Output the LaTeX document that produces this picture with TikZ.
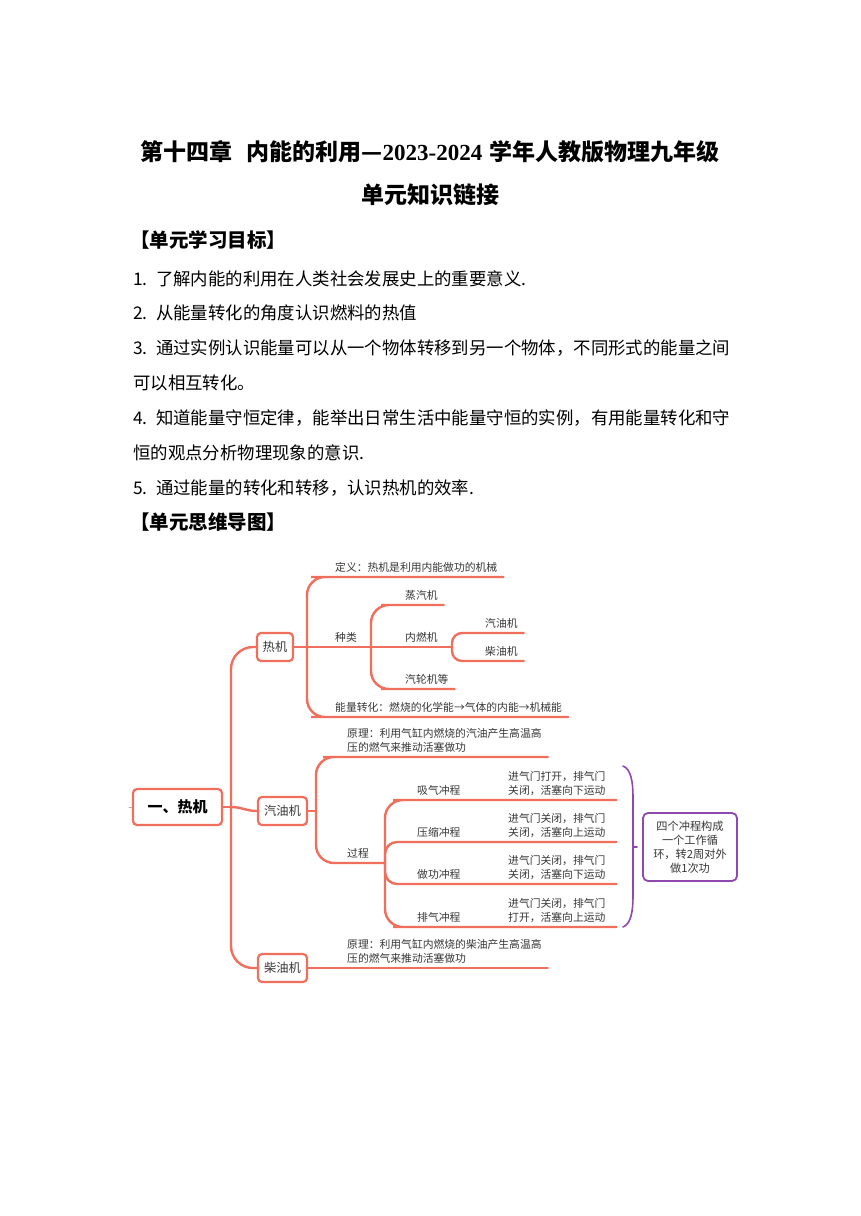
\documentclass[tikz,border=0pt]{standalone}
\usepackage{fontspec}
\setmainfont{Noto Sans CJK SC}
\newfontfamily\numfont{Liberation Serif}
\usepackage{tikz}

\definecolor{mapred}{RGB}{240,110,92}
\definecolor{mappurple}{RGB}{142,72,176}
\definecolor{maptext}{RGB}{55,55,55}

\begin{document}
\begin{tikzpicture}[
    x = 1pt, y = -1pt,
    line cap = round,
    pagetitle/.style = {inner sep = 0pt,
      font = \fontsize{23}{26}\selectfont\bfseries},
    heading/.style = {anchor = west, inner sep = 0pt,
      font = \fontsize{19.5}{22}\selectfont\bfseries},
    goal/.style = {anchor = west, inner sep = 0pt,
      font = \fontsize{17.4}{20}\selectfont},
    branch/.style = {draw = mapred, line width = 2.4pt,
      rounded corners = 18pt},
    topic/.style = {draw = mapred, line width = 2.2pt,
      rounded corners = 4pt, fill = white, text = maptext,
      font = \fontsize{12.3}{14}\selectfont,
      minimum height = 28pt, inner sep = 0pt},
    central/.style = {topic, text = black,
      font = \fontsize{15}{18}\selectfont\bfseries,
      minimum width = 89pt, minimum height = 36pt},
    leaf/.style = {anchor = south west, align = left,
      inner xsep = 6pt, inner ysep = 4pt, text = maptext,
      font = \fontsize{10.8}{14.5}\selectfont},
    strokenote/.style = {leaf, text width = 102pt},
    summary/.style = {draw = mappurple, line width = 1.8pt,
      rounded corners = 5pt, align = center, text = maptext,
      minimum width = 94pt, minimum height = 68pt, inner sep = 0pt,
      font = \fontsize{11.2}{14}\selectfont},
    ]

    \fill [white] (0, 0) rectangle (860, 1216);
    \useasboundingbox (0, 0) rectangle (860, 1216);

    \node at (430, 152) [pagetitle, name = title_1]
    {第十四章\hspace{0.6em}内能的利用—{\numfont 2023-2024}\hspace{0.3em}学年人教版物理九年级};
    \node at (430, 195) [pagetitle, name = title_2] {单元知识链接};

    \node at (130, 240) [heading, name = goals_head] {【单元学习目标】};
    \node at (133, 279) [goal, name = goal_1]
    {\makebox[23pt][l]{1.}了解内能的利用在人类社会发展史上的重要意义.};
    \node at (133, 313) [goal, name = goal_2]
    {\makebox[23pt][l]{2.}从能量转化的角度认识燃料的热值};
    \node at (133, 348) [goal, name = goal_3]
    {\makebox[23pt][l]{3.}通过实例认识能量可以从一个物体转移到另一个物体，不同形式的能量之间};
    \node at (133, 383) [goal, name = goal_3b] {可以相互转化。};
    \node at (133, 418) [goal, name = goal_4]
    {\makebox[23pt][l]{4.}知道能量守恒定律，能举出日常生活中能量守恒的实例，有用能量转化和守};
    \node at (133, 453) [goal, name = goal_4b] {恒的观点分析物理现象的意识.};
    \node at (133, 488) [goal, name = goal_5]
    {\makebox[23pt][l]{5.}通过能量的转化和转移，认识热机的效率.};
    \node at (130, 522) [heading, name = map_head] {【单元思维导图】};

    % mind map: topics
    \node at (177.5, 807) [central, name = root] {一、热机};
    \node at (275, 647) [topic, minimum width = 36pt, name = rejiq] {热机};
    \node at (282.5, 811) [topic, minimum width = 49pt, name = qiyouj] {汽油机};
    \node at (282.5, 968) [topic, minimum width = 49pt, name = chaiyouj] {柴油机};

    \coordinate (stub) at (129, 807);
    \coordinate (root_fork) at (231, 807);
    \coordinate (rejiq_fork) at (307, 647);
    \coordinate (kind_fork) at (371, 647);
    \coordinate (ice_fork) at (452, 647);
    \coordinate (qiyouj_fork) at (316, 811);
    \coordinate (process_fork) at (385, 863);

    % mind map: leaves
    \node at (329, 577) [leaf, name = define] {定义：热机是利用内能做功的机械};
    \node at (329, 647) [leaf, name = kind] {种类};
    \node at (399, 605) [leaf, name = steam] {蒸汽机};
    \node at (399, 647) [leaf, name = ice] {内燃机};
    \node at (479, 633) [leaf, name = petrol] {汽油机};
    \node at (479, 661) [leaf, name = diesel] {柴油机};
    \node at (399, 689) [leaf, name = turbine] {汽轮机等};
    \node at (329, 717) [leaf, name = energy]
    {能量转化：燃烧的化学能→气体的内能→机械能};

    \node at (341, 757) [leaf, name = qiyouj_rule]
    {原理：利用气缸内燃烧的汽油产生高温高\\压的燃气来推动活塞做功};
    \node at (341, 863) [leaf, name = process] {过程};
    \node at (411, 800) [leaf, name = intake] {吸气冲程};
    \node at (502, 800) [strokenote, name = intake_note]
    {进气门打开，排气门\\关闭，活塞向下运动};
    \node at (411, 842) [leaf, name = compress] {压缩冲程};
    \node at (502, 842) [strokenote, name = compress_note]
    {进气门关闭，排气门\\关闭，活塞向上运动};
    \node at (411, 884) [leaf, name = power] {做功冲程};
    \node at (502, 884) [strokenote, name = power_note]
    {进气门关闭，排气门\\关闭，活塞向下运动};
    \node at (411, 927) [leaf, name = exhaust] {排气冲程};
    \node at (502, 927) [strokenote, name = exhaust_note]
    {进气门关闭，排气门\\打开，活塞向上运动};

    \node at (341, 968) [leaf, name = chaiyouj_rule]
    {原理：利用气缸内燃烧的柴油产生高温高\\压的燃气来推动活塞做功};

    \node at (690, 847) [summary, name = cycle]
    {四个冲程构成\\一个工作循\\环，转2周对外\\做1次功};

    % mind map: branches
    \draw [gray!60, line width = 1pt] (stub) -- (root.west);
    \draw [branch] (root.east) -- (root_fork);
    \draw [branch, rounded corners = 22pt] (root_fork) |- (rejiq.west);
    \draw [branch, rounded corners = 22pt] (root_fork) |- (chaiyouj.west);
    \draw [branch] (root_fork) to [out = 0, in = 180] (qiyouj.west);

    \draw [branch] (rejiq.east) -- (kind_fork);
    \draw [branch] (rejiq_fork) |- (define.south west) -- (define.south east);
    \draw [branch] (rejiq_fork) |- (energy.south west) -- (energy.south east);
    \draw [branch] (kind_fork) |- (steam.south west) -- (steam.south east);
    \draw [branch] (kind_fork) |- (turbine.south west) -- (turbine.south east);
    \draw [branch] (kind_fork) -- (ice_fork);
    \draw [branch, rounded corners = 10pt]
    (ice_fork) |- (petrol.south west) -- (petrol.south east);
    \draw [branch, rounded corners = 10pt]
    (ice_fork) |- (diesel.south west) -- (diesel.south east);

    \draw [branch] (qiyouj.east) -- (qiyouj_fork);
    \draw [branch] (qiyouj_fork) |- (qiyouj_rule.south west)
    -- (qiyouj_rule.south east);
    \draw [branch] (qiyouj_fork) |- (process_fork);
    \draw [branch] (process_fork) |- (intake.south west)
    -- (intake_note.south east);
    \draw [branch, rounded corners = 12pt] (process_fork) |- (compress.south west)
    -- (compress_note.south east);
    \draw [branch, rounded corners = 12pt] (process_fork) |- (power.south west)
    -- (power_note.south east);
    \draw [branch] (process_fork) |- (exhaust.south west)
    -- (exhaust_note.south east);

    \draw [branch] (chaiyouj.east) -- (chaiyouj_rule.south east);

    % bracket round the four strokes
    \draw [mappurple, line width = 1.6pt]
    (623, 766) .. controls (631, 769) and (633, 782) .. (633, 797)
    -- (633, 896) .. controls (633, 911) and (631, 924) .. (623, 927);
    \draw [mappurple, line width = 1.6pt] (633, 847) -- (637, 847);

  \end{tikzpicture}
\end{document}
